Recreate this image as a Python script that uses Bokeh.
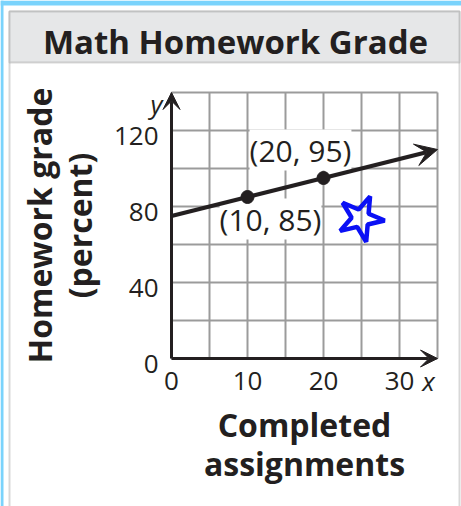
import math
from bokeh.plotting import figure
from bokeh.models import Range1d, Label, Arrow, VeeHead, BoxAnnotation
from bokeh.embed import file_html
from bokeh.resources import INLINE

# Axis ticks and grid
x_ticks = [0, 10, 20, 30]
y_ticks = [0, 40, 80, 120]
x_grid = [0, 5, 10, 15, 20, 25, 30, 35]
y_grid = [0, 20, 40, 60, 80, 100, 120, 140]
x_max = 35
y_max = 140

# Known points on the line
point_x = [10, 20]
point_y = [85, 95]
point_labels = ["(10, 85)", "(20, 95)"]

# Hand-drawn star note
star_x = [24.9]
star_y = [73.7]

FONT = "Open Sans"
INK = "#231f20"
GRID = "#9b9b9b"
BLUE_EDGE = "#7ad3fc"

# canvas size and pixel box of the graph area
W, H = 461, 506
LEFT, RIGHT, TOP, BOTTOM = 171, 437, 92, 358
kx = (RIGHT - LEFT) / x_max
ky = (BOTTOM - TOP) / y_max


def dx(px):
    return (px - LEFT) / kx


def dy(py):
    return (BOTTOM - py) / ky


slope = (point_y[1] - point_y[0]) / (point_x[1] - point_x[0])
intercept = point_y[0] - slope * point_x[0]

p = figure(width=W, height=H, output_backend="svg", toolbar_location=None,
           x_range=Range1d(dx(0), dx(W)), y_range=Range1d(dy(H), dy(0)),
           x_axis_location=None, y_axis_location=None,
           min_border=0)
p.background_fill_color = "white"
p.border_fill_color = "white"
p.outline_line_color = None
p.xgrid.visible = False
p.ygrid.visible = False


def canvas_box(**kw):
    return BoxAnnotation(left_units="canvas", right_units="canvas",
                         top_units="canvas", bottom_units="canvas",
                         level="underlay", **kw)


# page decoration: blue edges, panel frame, title band
p.add_layout(canvas_box(left=0, right=3, top=0, bottom=H,
                        fill_color=BLUE_EDGE, fill_alpha=1, line_color=None))
p.add_layout(canvas_box(left=0, right=W, top=0, bottom=5,
                        fill_color=BLUE_EDGE, fill_alpha=1, line_color=None))
p.add_layout(canvas_box(left=9, right=459, top=11, bottom=H + 20,
                        fill_alpha=0, line_color="#7d7d7d", line_width=2))
p.add_layout(canvas_box(left=9, right=459, top=11, bottom=62,
                        fill_color="#e6e7e8", fill_alpha=1,
                        line_color="#7d7d7d", line_width=2))
p.add_layout(Label(x=dx(235), y=dy(41), text="Math Homework Grade",
                   text_align="center", text_baseline="alphabetic",
                   text_font=FONT, text_font_style="bold",
                   text_font_size="33px", text_color=INK))

# grid
p.segment(x0=x_grid, y0=[0] * len(x_grid), x1=x_grid, y1=[y_max] * len(x_grid),
          line_color=GRID, line_width=2)
p.segment(x0=[0] * len(y_grid), y0=y_grid, x1=[x_max] * len(y_grid), y1=y_grid,
          line_color=GRID, line_width=2)

# axes with arrowheads
p.add_layout(Arrow(end=VeeHead(size=17, fill_color=INK, line_color=INK),
                   x_start=0, y_start=0, x_end=0, y_end=y_max,
                   line_color=INK, line_width=3))
p.add_layout(Arrow(end=VeeHead(size=17, fill_color=INK, line_color=INK),
                   x_start=0, y_start=0, x_end=x_max, y_end=0,
                   line_color=INK, line_width=3))

# tick labels
p.text(x=x_ticks, y=[0] * len(x_ticks), text=[str(t) for t in x_ticks],
       text_align="center", text_baseline="alphabetic", y_offset=22,
       text_font={"value": FONT}, text_font_size="26px", text_color=INK)
p.text(x=[0] * len(y_ticks), y=y_ticks, text=[str(t) for t in y_ticks],
       text_align="right", text_baseline="alphabetic", x_offset=-13,
       y_offset=5, text_font={"value": FONT}, text_font_size="26px",
       text_color=INK)

# axis variable names
p.add_layout(Label(x=0, y=y_max, x_offset=-15, y_offset=-11, text="y",
                   text_align="center", text_baseline="alphabetic",
                   text_font=FONT, text_font_style="italic",
                   text_font_size="26px", text_color=INK))
p.add_layout(Label(x=x_max, y=0, x_offset=-9, y_offset=-22, text="x",
                   text_align="center", text_baseline="alphabetic",
                   text_font=FONT, text_font_style="italic",
                   text_font_size="26px", text_color=INK))

# axis titles
title_style = dict(text_font=FONT, text_font_style="bold",
                   text_font_size="32px", text_color=INK,
                   text_align="center", text_baseline="alphabetic")
p.add_layout(Label(x=dx(304), y=dy(424), text="Completed", **title_style))
p.add_layout(Label(x=dx(304), y=dy(463), text="assignments", **title_style))
p.add_layout(Label(x=dx(39), y=dy(225), text="Homework grade",
                   angle=math.pi / 2, **title_style))
p.add_layout(Label(x=dx(79), y=dy(225), text="(percent)",
                   angle=math.pi / 2, **title_style))

# coordinate labels of the two points
offsets = [(23, -22), (-23, 28)]
for px_, py_, txt, (ox, oy) in zip(point_x, point_y, point_labels, offsets):
    p.add_layout(Label(x=px_, y=py_, x_offset=ox, y_offset=oy, text=txt,
                       text_align="center", text_baseline="middle",
                       text_font=FONT, text_font_size="30px",
                       text_color=INK, padding=0,
                       background_fill_color="white", background_fill_alpha=1))

# the line through the two points
p.add_layout(Arrow(end=VeeHead(size=22, fill_color=INK, line_color=INK),
                   x_start=0, y_start=intercept,
                   x_end=x_max, y_end=intercept + slope * x_max,
                   line_color=INK, line_width=4))
p.scatter(point_x, point_y, size=13, color=INK, level="overlay")

# star note
p.scatter(star_x, star_y, marker="star", size=48, fill_color=None,
          line_color="#0a10f5", line_width=4.5, angle=-0.4)

open("out.html", "w").write(file_html(p, INLINE))
